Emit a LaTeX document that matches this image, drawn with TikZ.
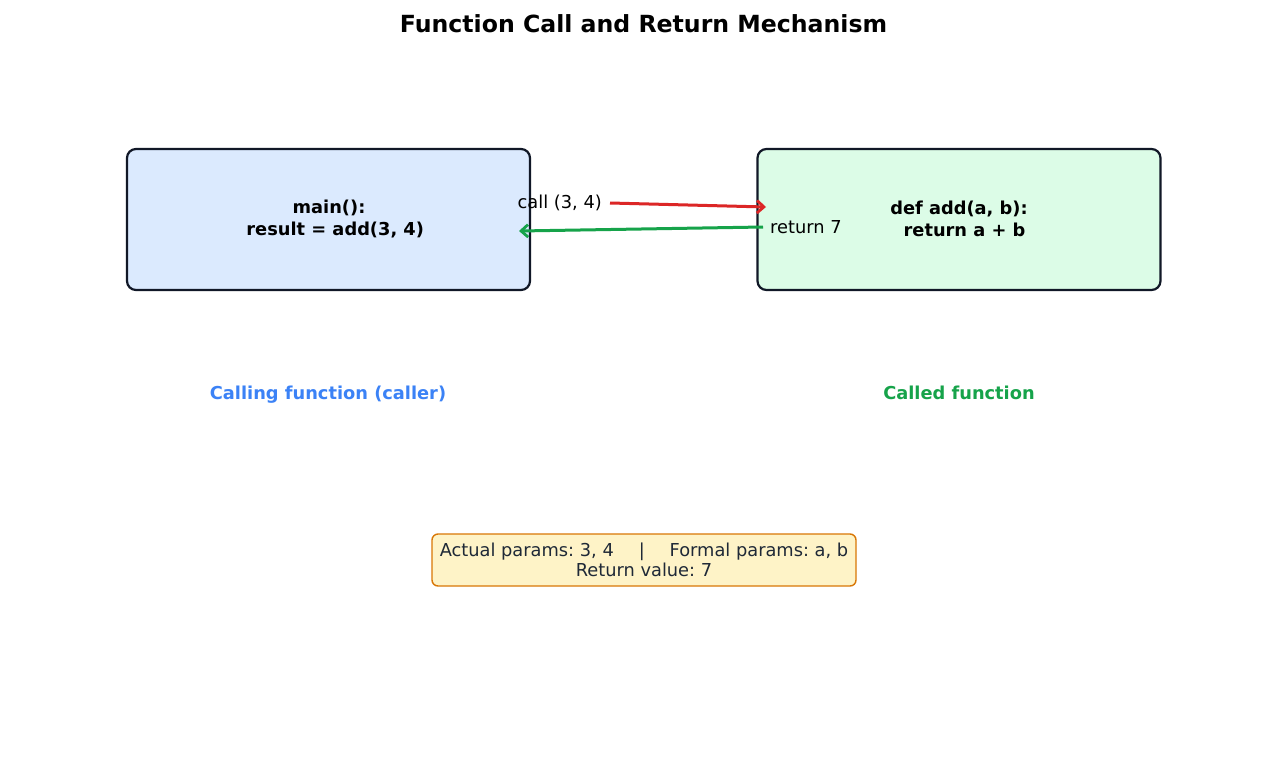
\documentclass[tikz,border=0pt]{standalone}
\usepackage{fontspec}
\setmainfont{DejaVu Sans}
\usetikzlibrary{arrows.meta}
\frenchspacing
\definecolor{boxline}{HTML}{111827}
\definecolor{bluefill}{HTML}{DBEAFE}
\definecolor{greenfill}{HTML}{DCFCE7}
\definecolor{callred}{HTML}{DC2626}
\definecolor{retgreen}{HTML}{16A34A}
\definecolor{labblue}{HTML}{3B82F6}
\definecolor{notefill}{HTML}{FEF3C7}
\definecolor{noteline}{HTML}{D97706}
\definecolor{notetext}{HTML}{1F2937}
\tikzset{
  funcbox/.style={draw=boxline, line width=2.2pt, rounded corners=9pt, minimum width=403pt, minimum height=141pt, inner sep=0pt},
  boxtext/.style={font=\fontsize{17.8}{21.5}\selectfont\bfseries, align=center, text=black},
  lbl/.style={font=\fontsize{17.8}{20}\selectfont, text=black, inner sep=0pt},
  sidelbl/.style={font=\fontsize{17.8}{20}\selectfont\bfseries, inner sep=0pt, anchor=base},
  arr/.style={line width=3pt, -{Straight Barb[length=7pt,width=12.5pt,line width=2.8pt]}},
}
\begin{document}
\begin{tikzpicture}[x=1pt,y=-1pt]
\useasboundingbox[fill=white] (0,0) rectangle (1287,766);
\node[font=\fontsize{23.6}{27}\selectfont\bfseries] (title) at (643.5,24) {Function Call and Return Mechanism};
\node[funcbox, fill=bluefill] (main) at (328.5,219.5) {};
\node[funcbox, fill=greenfill] (add) at (959,219.5) {};
\node[boxtext] (maintext) at (329,219) {main():\\\hspace*{0.7em}result = add(3, 4)};
\node[boxtext] (addtext) at (959,219) {def add(a, b):\\\hspace*{0.62em}return a + b};
\node[lbl, anchor=east] (calllbl) at (602,203) {call (3, 4)};
\node[lbl, anchor=west] (retlbl) at (770,227) {return 7};
\coordinate (callend) at (766,207);
\coordinate (retstart) at (763,227);
\coordinate (retend) at (519,231);
\draw[arr, callred] ([xshift=8pt]calllbl.east) -- (callend);
\draw[arr, retgreen] (retstart) -- (retend);
\node[sidelbl, text=labblue] (callerlbl) at (328,399.5) {Calling function (caller)};
\node[sidelbl, text=retgreen] (calledlbl) at (959,399.5) {Called function};
\node[draw=noteline, fill=notefill, line width=1.4pt, rounded corners=6pt, minimum width=424pt, minimum height=52pt, inner sep=0pt, align=center, text=notetext, font=\fontsize{17.8}{20.5}\selectfont] (note) at (644,560) {Actual params: 3, 4\hspace{1.4em}|\hspace{1.4em}Formal params: a, b\\Return value: 7};
\end{tikzpicture}
\end{document}
